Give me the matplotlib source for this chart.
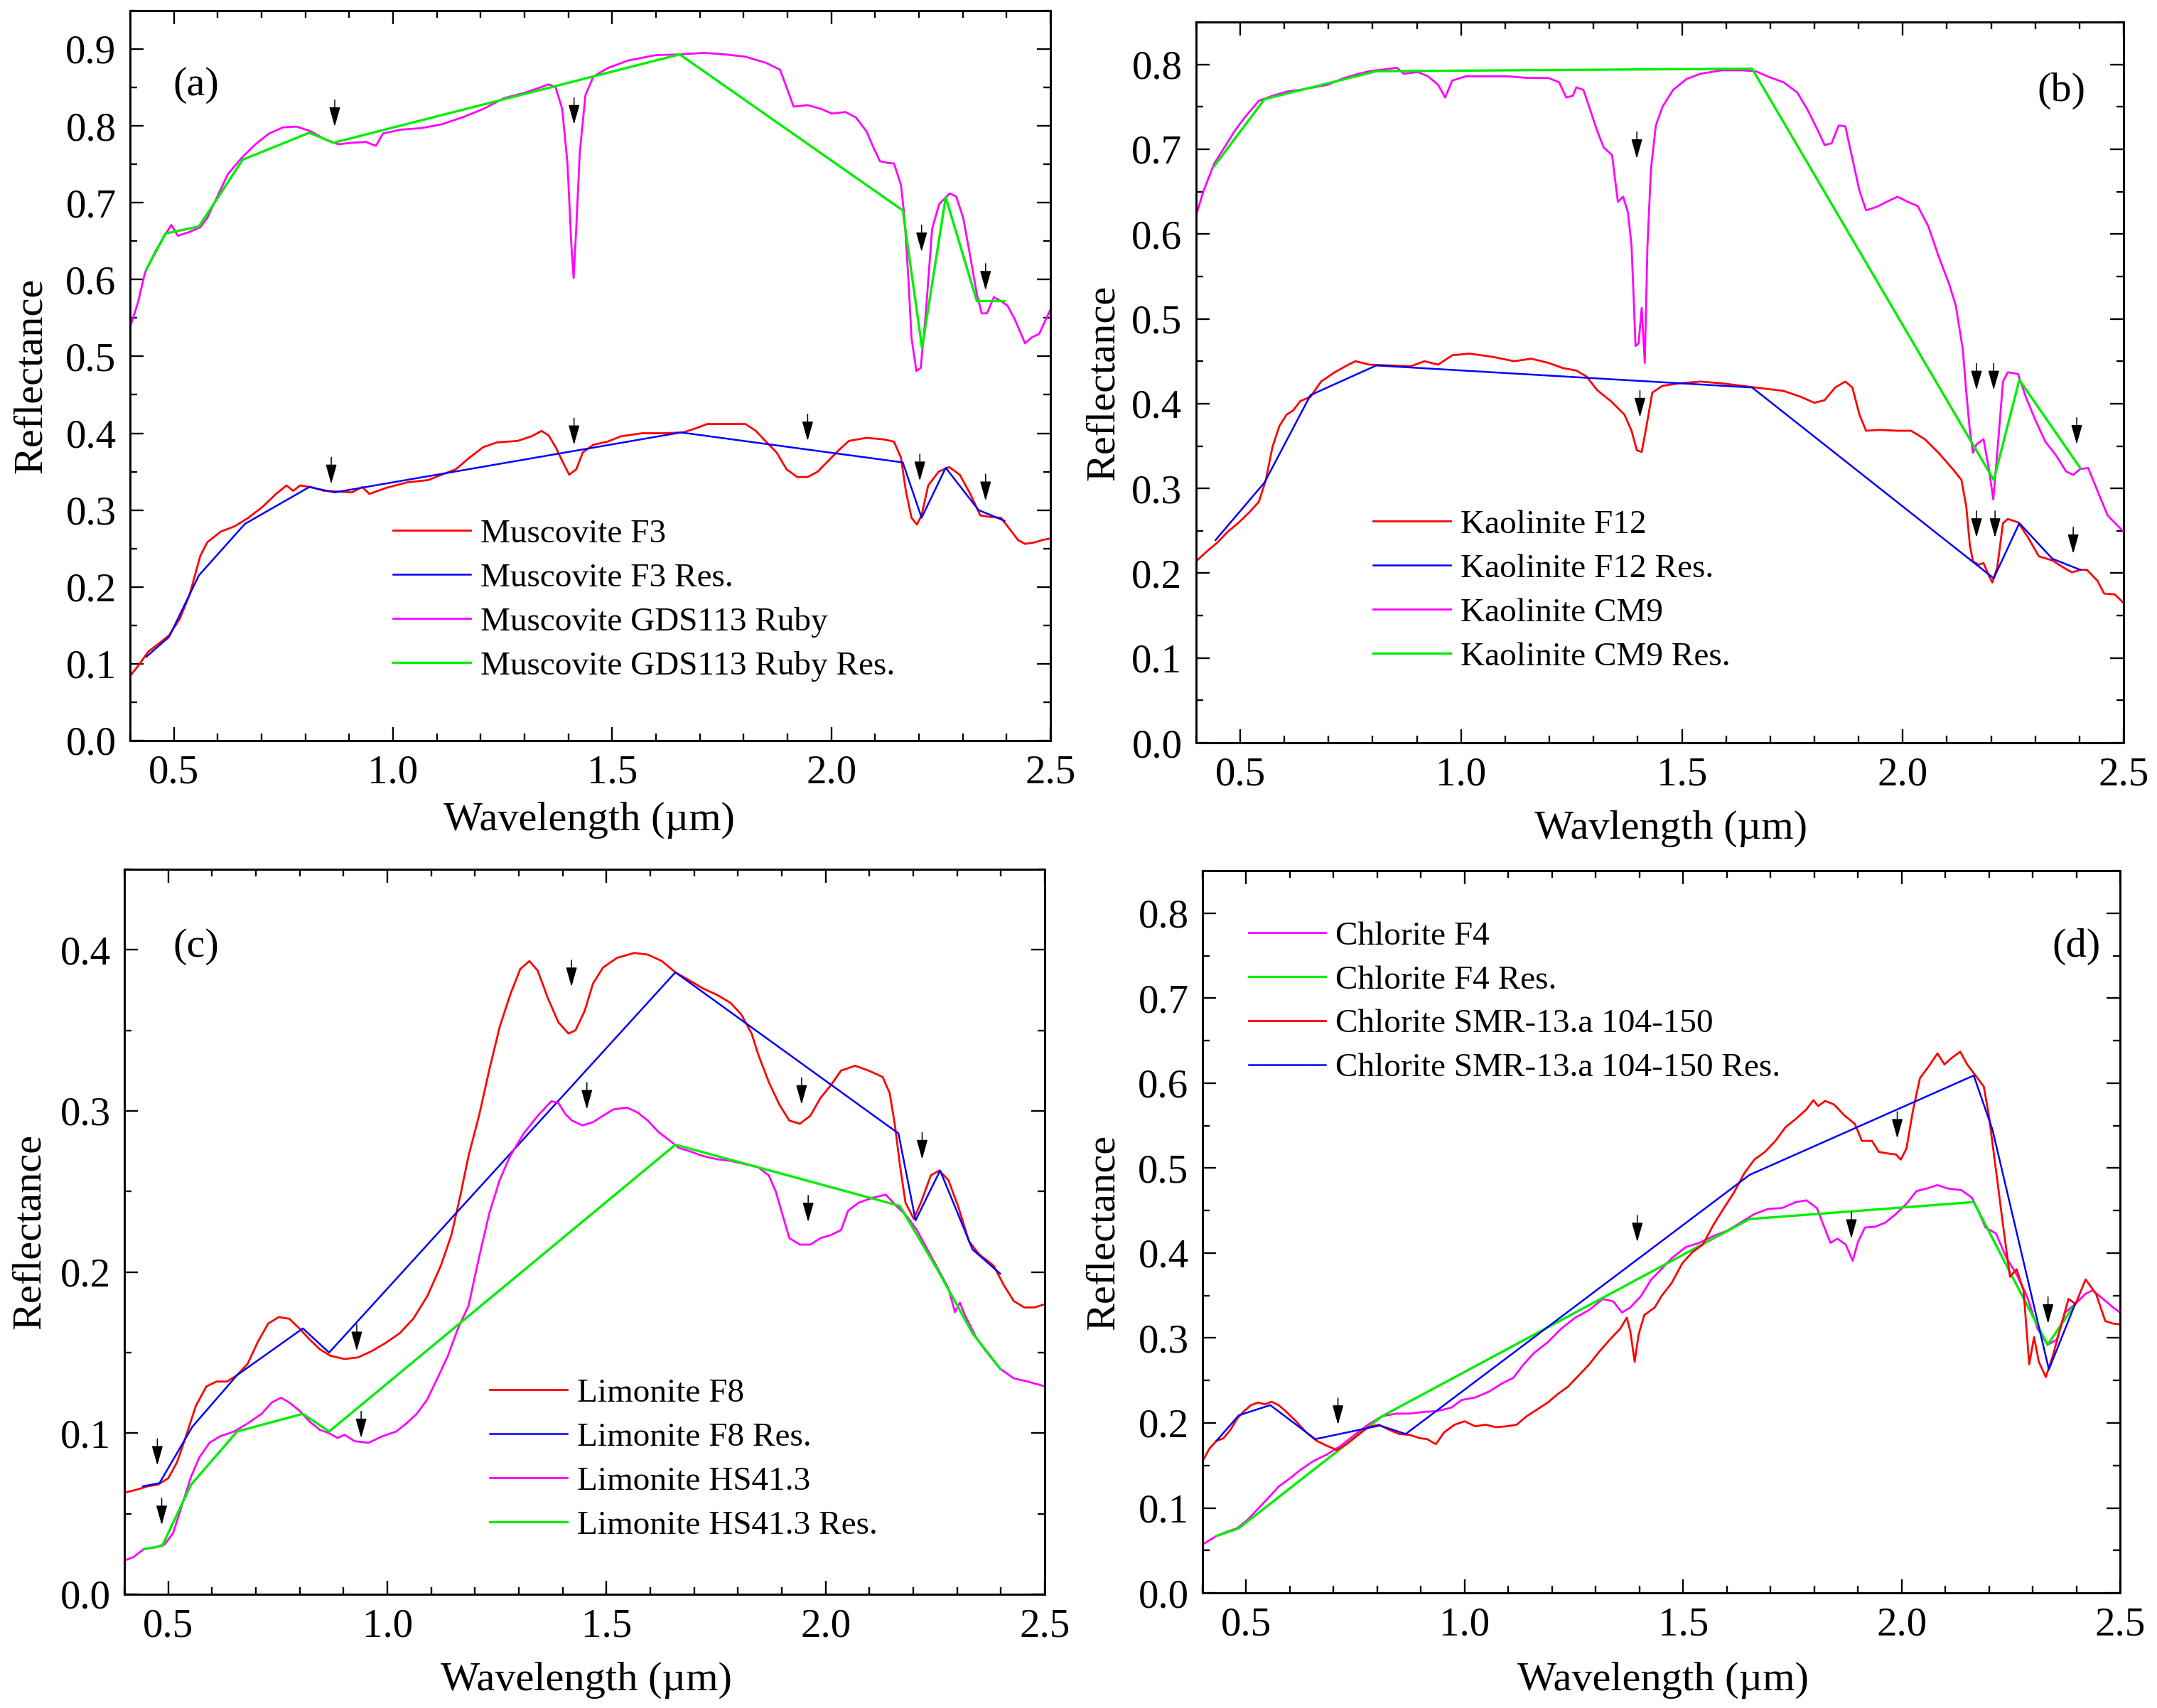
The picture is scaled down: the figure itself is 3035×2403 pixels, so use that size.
import numpy as np
import matplotlib
matplotlib.use('Agg')
import matplotlib.pyplot as plt
from matplotlib.ticker import MultipleLocator, FormatStrFormatter

plt.rcParams['font.family'] = ['Liberation Serif', 'DejaVu Serif']

RED = '#ff0000'
BLUE = '#0000ff'
MAG = '#ff00ff'
GRN = '#00ee00'

# ---------------- panel (a): muscovite ----------------
musc_gds = [(0.400, 0.538), (0.418, 0.570), (0.434, 0.609), (0.458, 0.637), (0.481, 0.659),
            (0.494, 0.671), (0.509, 0.657), (0.536, 0.662), (0.560, 0.668), (0.576, 0.680),
            (0.599, 0.708), (0.623, 0.737), (0.654, 0.758), (0.686, 0.776), (0.717, 0.790),
            (0.749, 0.798), (0.780, 0.799), (0.812, 0.793), (0.843, 0.783), (0.875, 0.776),
            (0.906, 0.778), (0.938, 0.779), (0.961, 0.774), (0.977, 0.790), (1.017, 0.795),
            (1.064, 0.797), (1.111, 0.802), (1.158, 0.811), (1.206, 0.822), (1.253, 0.836),
            (1.300, 0.843), (1.331, 0.849), (1.355, 0.854), (1.371, 0.850), (1.386, 0.822),
            (1.398, 0.751), (1.407, 0.644), (1.412, 0.602), (1.418, 0.666), (1.426, 0.765),
            (1.439, 0.840), (1.457, 0.864), (1.489, 0.875), (1.536, 0.885), (1.599, 0.892),
            (1.654, 0.893), (1.709, 0.895), (1.757, 0.893), (1.804, 0.890), (1.851, 0.882),
            (1.883, 0.873), (1.898, 0.850), (1.914, 0.825), (1.946, 0.827), (1.977, 0.822),
            (2.001, 0.816), (2.032, 0.818), (2.056, 0.811), (2.080, 0.793), (2.096, 0.772),
            (2.111, 0.754), (2.127, 0.752), (2.143, 0.751), (2.159, 0.723), (2.167, 0.680),
            (2.175, 0.609), (2.183, 0.524), (2.194, 0.481), (2.204, 0.485), (2.215, 0.552),
            (2.230, 0.666), (2.246, 0.698), (2.270, 0.712), (2.285, 0.708), (2.301, 0.680),
            (2.317, 0.630), (2.332, 0.581), (2.343, 0.556), (2.355, 0.556), (2.371, 0.577),
            (2.387, 0.572), (2.402, 0.566), (2.418, 0.549), (2.442, 0.517), (2.458, 0.525),
            (2.474, 0.529), (2.500, 0.561)]
musc_gds_res = [(0.437, 0.613), (0.481, 0.660), (0.557, 0.669), (0.657, 0.756), (0.809, 0.791),
                (0.864, 0.778), (1.654, 0.893), (2.163, 0.690), (2.207, 0.511), (2.261, 0.707),
                (2.332, 0.572), (2.395, 0.572)]
musc_f3 = [(0.400, 0.084), (0.418, 0.097), (0.442, 0.116), (0.465, 0.126), (0.489, 0.137),
           (0.513, 0.158), (0.536, 0.190), (0.560, 0.240), (0.576, 0.258), (0.607, 0.272),
           (0.639, 0.279), (0.670, 0.290), (0.702, 0.304), (0.733, 0.321), (0.757, 0.332),
           (0.772, 0.325), (0.788, 0.332), (0.812, 0.330), (0.843, 0.325), (0.875, 0.324),
           (0.906, 0.323), (0.930, 0.330), (0.946, 0.321), (0.985, 0.329), (1.032, 0.336),
           (1.080, 0.339), (1.111, 0.346), (1.143, 0.353), (1.174, 0.368), (1.206, 0.382),
           (1.237, 0.388), (1.284, 0.390), (1.316, 0.396), (1.339, 0.403), (1.355, 0.397),
           (1.371, 0.382), (1.386, 0.364), (1.402, 0.346), (1.418, 0.353), (1.433, 0.375),
           (1.457, 0.385), (1.489, 0.389), (1.520, 0.396), (1.568, 0.400), (1.615, 0.400),
           (1.662, 0.401), (1.694, 0.407), (1.717, 0.412), (1.757, 0.412), (1.804, 0.412),
           (1.828, 0.403), (1.851, 0.389), (1.875, 0.375), (1.898, 0.353), (1.922, 0.343),
           (1.946, 0.343), (1.969, 0.350), (1.993, 0.364), (2.017, 0.378), (2.040, 0.390),
           (2.080, 0.394), (2.119, 0.392), (2.143, 0.389), (2.159, 0.368), (2.170, 0.325),
           (2.183, 0.290), (2.195, 0.281), (2.206, 0.293), (2.221, 0.332), (2.245, 0.350),
           (2.269, 0.356), (2.293, 0.346), (2.317, 0.321), (2.340, 0.293), (2.363, 0.291),
           (2.387, 0.290), (2.402, 0.279), (2.426, 0.261), (2.442, 0.256), (2.465, 0.258),
           (2.481, 0.261), (2.500, 0.263)]
musc_f3_res = [(0.437, 0.109), (0.489, 0.135), (0.557, 0.215), (0.662, 0.282), (0.809, 0.330),
               (0.867, 0.323), (1.657, 0.401), (2.163, 0.362), (2.206, 0.290), (2.261, 0.355),
               (2.336, 0.300), (2.395, 0.286)]
arrows_a = [(0.867, 0.799), (1.413, 0.802), (2.206, 0.636), (2.352, 0.586),
            (0.859, 0.334), (1.413, 0.385), (1.946, 0.390), (2.202, 0.338), (2.352, 0.312)]

# ---------------- panel (b): kaolinite ----------------
kaol_cm9 = [(0.400, 0.622), (0.417, 0.651), (0.441, 0.683), (0.464, 0.702), (0.488, 0.722),
            (0.511, 0.738), (0.542, 0.757), (0.573, 0.763), (0.605, 0.768), (0.636, 0.770),
            (0.667, 0.773), (0.698, 0.776), (0.730, 0.783), (0.761, 0.788), (0.792, 0.792),
            (0.823, 0.794), (0.855, 0.796), (0.870, 0.789), (0.902, 0.791), (0.925, 0.786),
            (0.948, 0.776), (0.964, 0.761), (0.980, 0.781), (1.011, 0.786), (1.058, 0.786),
            (1.105, 0.786), (1.152, 0.784), (1.198, 0.784), (1.222, 0.779), (1.238, 0.761),
            (1.253, 0.763), (1.261, 0.773), (1.277, 0.770), (1.292, 0.747), (1.308, 0.722),
            (1.323, 0.702), (1.342, 0.693), (1.355, 0.638), (1.367, 0.644), (1.378, 0.625),
            (1.386, 0.586), (1.391, 0.522), (1.395, 0.468), (1.402, 0.471), (1.409, 0.513),
            (1.416, 0.448), (1.422, 0.586), (1.430, 0.677), (1.441, 0.728), (1.456, 0.750),
            (1.480, 0.770), (1.511, 0.783), (1.542, 0.789), (1.589, 0.793), (1.636, 0.793),
            (1.667, 0.792), (1.698, 0.785), (1.730, 0.779), (1.761, 0.767), (1.784, 0.747),
            (1.808, 0.722), (1.823, 0.705), (1.839, 0.707), (1.855, 0.728), (1.870, 0.727),
            (1.886, 0.689), (1.902, 0.651), (1.917, 0.628), (1.941, 0.632), (1.964, 0.638),
            (1.988, 0.644), (2.011, 0.638), (2.034, 0.633), (2.058, 0.609), (2.081, 0.574),
            (2.105, 0.541), (2.120, 0.516), (2.136, 0.464), (2.144, 0.413), (2.152, 0.368),
            (2.159, 0.342), (2.167, 0.352), (2.183, 0.358), (2.195, 0.323), (2.205, 0.287),
            (2.214, 0.342), (2.227, 0.426), (2.238, 0.437), (2.261, 0.435), (2.280, 0.406),
            (2.300, 0.381), (2.323, 0.355), (2.347, 0.339), (2.370, 0.320), (2.386, 0.316),
            (2.402, 0.323), (2.420, 0.324), (2.441, 0.297), (2.464, 0.268), (2.500, 0.249)]
kaol_cm9_res = [(0.441, 0.680), (0.555, 0.759), (0.808, 0.792), (1.659, 0.795), (2.206, 0.310),
                (2.264, 0.428), (2.402, 0.324)]
kaol_f12 = [(0.400, 0.214), (0.425, 0.226), (0.448, 0.236), (0.472, 0.249), (0.495, 0.259),
            (0.519, 0.271), (0.542, 0.284), (0.558, 0.310), (0.573, 0.349), (0.589, 0.374),
            (0.605, 0.387), (0.620, 0.392), (0.636, 0.403), (0.659, 0.408), (0.683, 0.426),
            (0.714, 0.437), (0.745, 0.446), (0.761, 0.450), (0.792, 0.446), (0.839, 0.445),
            (0.886, 0.444), (0.917, 0.450), (0.948, 0.446), (0.980, 0.457), (1.019, 0.459),
            (1.073, 0.455), (1.120, 0.450), (1.159, 0.453), (1.198, 0.448), (1.230, 0.442),
            (1.261, 0.439), (1.284, 0.432), (1.308, 0.416), (1.339, 0.403), (1.370, 0.387),
            (1.386, 0.368), (1.398, 0.345), (1.409, 0.343), (1.420, 0.374), (1.433, 0.413),
            (1.456, 0.421), (1.495, 0.424), (1.542, 0.426), (1.589, 0.424), (1.636, 0.421),
            (1.683, 0.418), (1.730, 0.415), (1.769, 0.408), (1.800, 0.401), (1.823, 0.404),
            (1.847, 0.419), (1.870, 0.426), (1.886, 0.419), (1.902, 0.387), (1.917, 0.368),
            (1.948, 0.369), (1.988, 0.368), (2.019, 0.368), (2.050, 0.358), (2.081, 0.342),
            (2.113, 0.323), (2.133, 0.310), (2.144, 0.278), (2.152, 0.233), (2.159, 0.214),
            (2.172, 0.210), (2.183, 0.212), (2.195, 0.197), (2.203, 0.189), (2.214, 0.207),
            (2.227, 0.259), (2.238, 0.264), (2.261, 0.260), (2.284, 0.242), (2.308, 0.220),
            (2.339, 0.215), (2.363, 0.207), (2.383, 0.201), (2.402, 0.204), (2.417, 0.204),
            (2.441, 0.191), (2.456, 0.176), (2.480, 0.175), (2.500, 0.165)]
kaol_f12_res = [(0.444, 0.239), (0.555, 0.307), (0.659, 0.410), (0.808, 0.445), (1.659, 0.419),
                (2.206, 0.194), (2.264, 0.259), (2.339, 0.217), (2.402, 0.204)]
arrows_b = [(1.398, 0.689), (1.405, 0.384), (2.167, 0.416), (2.206, 0.416), (2.394, 0.352),
            (2.167, 0.242), (2.209, 0.242), (2.386, 0.223)]

# ---------------- panel (c): limonite ----------------
lim_f8 = [(0.400, 0.063), (0.429, 0.065), (0.453, 0.067), (0.476, 0.068), (0.500, 0.072),
          (0.520, 0.082), (0.539, 0.097), (0.563, 0.117), (0.587, 0.129), (0.610, 0.132),
          (0.634, 0.132), (0.657, 0.136), (0.681, 0.143), (0.705, 0.157), (0.728, 0.168),
          (0.752, 0.172), (0.776, 0.171), (0.799, 0.165), (0.823, 0.158), (0.846, 0.152),
          (0.870, 0.148), (0.902, 0.146), (0.933, 0.147), (0.965, 0.151), (0.996, 0.156),
          (1.028, 0.162), (1.059, 0.171), (1.091, 0.185), (1.122, 0.204), (1.146, 0.223),
          (1.166, 0.247), (1.185, 0.272), (1.209, 0.297), (1.232, 0.325), (1.256, 0.352),
          (1.280, 0.372), (1.303, 0.388), (1.324, 0.393), (1.343, 0.387), (1.366, 0.370),
          (1.390, 0.355), (1.413, 0.348), (1.429, 0.350), (1.450, 0.362), (1.469, 0.379),
          (1.492, 0.389), (1.524, 0.395), (1.563, 0.398), (1.594, 0.397), (1.626, 0.393),
          (1.657, 0.386), (1.689, 0.381), (1.720, 0.376), (1.752, 0.372), (1.783, 0.367),
          (1.807, 0.360), (1.831, 0.348), (1.846, 0.335), (1.870, 0.318), (1.894, 0.304),
          (1.917, 0.294), (1.941, 0.292), (1.965, 0.297), (1.988, 0.308), (2.012, 0.316),
          (2.035, 0.325), (2.067, 0.328), (2.098, 0.325), (2.130, 0.321), (2.146, 0.311),
          (2.158, 0.291), (2.169, 0.267), (2.182, 0.243), (2.201, 0.233), (2.217, 0.243),
          (2.240, 0.260), (2.259, 0.263), (2.280, 0.257), (2.303, 0.240), (2.327, 0.219),
          (2.350, 0.211), (2.383, 0.204), (2.406, 0.192), (2.429, 0.182), (2.453, 0.178),
          (2.476, 0.178), (2.500, 0.180)]
lim_f8_res = [(0.442, 0.067), (0.480, 0.069), (0.555, 0.104), (0.657, 0.136), (0.807, 0.165),
              (0.867, 0.150), (1.657, 0.386), (2.166, 0.286), (2.205, 0.232), (2.261, 0.263),
              (2.335, 0.214), (2.398, 0.199)]
lim_hs = [(0.400, 0.021), (0.420, 0.023), (0.444, 0.028), (0.468, 0.029), (0.492, 0.031),
          (0.511, 0.038), (0.531, 0.055), (0.552, 0.073), (0.571, 0.085), (0.594, 0.094),
          (0.618, 0.098), (0.650, 0.101), (0.681, 0.106), (0.713, 0.112), (0.736, 0.119),
          (0.757, 0.122), (0.776, 0.119), (0.799, 0.114), (0.823, 0.107), (0.846, 0.102),
          (0.867, 0.100), (0.886, 0.097), (0.902, 0.099), (0.925, 0.095), (0.957, 0.094),
          (0.988, 0.098), (1.020, 0.101), (1.043, 0.106), (1.067, 0.112), (1.091, 0.121),
          (1.114, 0.134), (1.138, 0.148), (1.161, 0.165), (1.185, 0.179), (1.209, 0.209),
          (1.232, 0.236), (1.256, 0.257), (1.280, 0.272), (1.311, 0.286), (1.343, 0.297),
          (1.374, 0.306), (1.390, 0.305), (1.406, 0.298), (1.421, 0.294), (1.445, 0.291),
          (1.469, 0.293), (1.492, 0.297), (1.516, 0.301), (1.547, 0.302), (1.571, 0.299),
          (1.594, 0.294), (1.618, 0.287), (1.642, 0.282), (1.665, 0.277), (1.689, 0.275),
          (1.720, 0.272), (1.752, 0.270), (1.783, 0.269), (1.815, 0.267), (1.846, 0.265),
          (1.870, 0.260), (1.886, 0.250), (1.902, 0.235), (1.917, 0.221), (1.941, 0.217),
          (1.965, 0.217), (1.988, 0.221), (2.012, 0.223), (2.035, 0.226), (2.051, 0.238),
          (2.075, 0.243), (2.106, 0.246), (2.137, 0.248), (2.161, 0.241), (2.184, 0.235),
          (2.208, 0.226), (2.232, 0.214), (2.256, 0.202), (2.280, 0.190), (2.295, 0.175),
          (2.306, 0.181), (2.318, 0.173), (2.342, 0.160), (2.365, 0.151), (2.398, 0.140),
          (2.429, 0.134), (2.461, 0.132), (2.500, 0.129)]
lim_hs_res = [(0.444, 0.028), (0.486, 0.030), (0.552, 0.068), (0.657, 0.101), (0.807, 0.112),
              (0.867, 0.101), (1.657, 0.279), (2.169, 0.241), (2.256, 0.201), (2.335, 0.162),
              (2.398, 0.140)]
arrows_c = [(0.475, 0.080), (0.485, 0.043), (0.930, 0.151), (0.940, 0.097), (1.420, 0.377),
            (1.455, 0.301), (1.945, 0.304), (1.960, 0.231), (2.220, 0.270)]

# ---------------- panel (d): chlorite ----------------
chl_f4 = [(0.400, 0.057), (0.432, 0.067), (0.456, 0.072), (0.479, 0.076), (0.503, 0.086),
          (0.527, 0.099), (0.551, 0.112), (0.574, 0.125), (0.598, 0.134), (0.622, 0.144),
          (0.653, 0.155), (0.685, 0.163), (0.716, 0.173), (0.748, 0.186), (0.779, 0.198),
          (0.811, 0.208), (0.843, 0.211), (0.874, 0.211), (0.906, 0.213), (0.937, 0.214),
          (0.969, 0.218), (0.993, 0.227), (1.024, 0.230), (1.056, 0.237), (1.087, 0.247),
          (1.111, 0.253), (1.135, 0.269), (1.158, 0.282), (1.190, 0.295), (1.221, 0.311),
          (1.253, 0.324), (1.285, 0.333), (1.316, 0.346), (1.340, 0.343), (1.360, 0.330),
          (1.379, 0.336), (1.403, 0.349), (1.427, 0.369), (1.450, 0.381), (1.474, 0.394),
          (1.506, 0.407), (1.537, 0.412), (1.569, 0.420), (1.600, 0.426), (1.632, 0.436),
          (1.663, 0.446), (1.695, 0.452), (1.726, 0.453), (1.758, 0.460), (1.782, 0.462),
          (1.806, 0.453), (1.821, 0.433), (1.837, 0.412), (1.853, 0.417), (1.872, 0.410),
          (1.888, 0.391), (1.900, 0.413), (1.916, 0.430), (1.940, 0.431), (1.963, 0.436),
          (1.987, 0.446), (2.011, 0.458), (2.034, 0.473), (2.058, 0.476), (2.082, 0.480),
          (2.105, 0.476), (2.137, 0.474), (2.161, 0.465), (2.176, 0.449), (2.192, 0.430),
          (2.216, 0.423), (2.240, 0.394), (2.263, 0.375), (2.287, 0.349), (2.311, 0.311),
          (2.334, 0.292), (2.355, 0.298), (2.374, 0.330), (2.397, 0.340), (2.421, 0.352),
          (2.437, 0.356), (2.461, 0.346), (2.484, 0.336), (2.500, 0.330)]
chl_f4_res = [(0.432, 0.067), (0.483, 0.076), (0.811, 0.208), (1.652, 0.440), (2.165, 0.460),
              (2.334, 0.292), (2.397, 0.340)]
chl_smr = [(0.400, 0.155), (0.416, 0.170), (0.432, 0.179), (0.448, 0.182), (0.464, 0.192),
           (0.479, 0.205), (0.495, 0.214), (0.511, 0.221), (0.527, 0.224), (0.543, 0.222),
           (0.558, 0.225), (0.574, 0.221), (0.590, 0.214), (0.614, 0.202), (0.637, 0.189),
           (0.661, 0.179), (0.685, 0.173), (0.708, 0.168), (0.732, 0.176), (0.756, 0.186),
           (0.779, 0.195), (0.803, 0.198), (0.827, 0.192), (0.850, 0.187), (0.874, 0.186),
           (0.898, 0.182), (0.914, 0.181), (0.934, 0.175), (0.953, 0.189), (0.977, 0.198),
           (1.000, 0.202), (1.024, 0.196), (1.048, 0.198), (1.071, 0.195), (1.095, 0.196),
           (1.119, 0.198), (1.142, 0.208), (1.166, 0.216), (1.190, 0.224), (1.213, 0.234),
           (1.237, 0.243), (1.261, 0.256), (1.285, 0.269), (1.308, 0.284), (1.332, 0.298),
           (1.356, 0.311), (1.371, 0.324), (1.379, 0.308), (1.389, 0.272), (1.398, 0.304),
           (1.411, 0.327), (1.435, 0.336), (1.450, 0.349), (1.474, 0.365), (1.498, 0.388),
           (1.521, 0.401), (1.545, 0.410), (1.569, 0.433), (1.592, 0.452), (1.616, 0.471),
           (1.640, 0.494), (1.663, 0.510), (1.687, 0.519), (1.711, 0.532), (1.734, 0.548),
           (1.758, 0.558), (1.782, 0.569), (1.798, 0.580), (1.809, 0.573), (1.825, 0.579),
           (1.845, 0.575), (1.869, 0.562), (1.893, 0.552), (1.909, 0.532), (1.932, 0.532),
           (1.948, 0.519), (1.971, 0.517), (1.987, 0.516), (1.998, 0.510), (2.011, 0.523),
           (2.026, 0.568), (2.042, 0.606), (2.061, 0.619), (2.082, 0.635), (2.098, 0.622),
           (2.113, 0.629), (2.134, 0.637), (2.150, 0.622), (2.169, 0.609), (2.188, 0.596),
           (2.200, 0.561), (2.216, 0.497), (2.232, 0.433), (2.248, 0.372), (2.263, 0.381),
           (2.279, 0.356), (2.292, 0.269), (2.303, 0.301), (2.314, 0.272), (2.330, 0.254),
           (2.346, 0.279), (2.366, 0.317), (2.382, 0.346), (2.398, 0.340), (2.421, 0.369),
           (2.445, 0.352), (2.466, 0.320), (2.484, 0.317), (2.500, 0.316)]
chl_smr_res = [(0.432, 0.179), (0.483, 0.209), (0.555, 0.221), (0.658, 0.181), (0.806, 0.197),
               (0.865, 0.187), (1.652, 0.492), (2.165, 0.609), (2.208, 0.545), (2.337, 0.263),
               (2.397, 0.340)]
arrows_d = [(0.710, 0.198), (1.395, 0.413), (1.885, 0.417), (1.990, 0.535), (2.335, 0.317)]


def xy(pts):
    a = np.array(pts)
    return a[:, 0], a[:, 1]


def style(ax, ymax, ytop_tick):
    ax.set_xlim(0.4, 2.5)
    ax.set_ylim(0.0, ymax)
    ax.xaxis.set_major_locator(MultipleLocator(0.5))
    ax.xaxis.set_minor_locator(MultipleLocator(0.1))
    ax.set_yticks(np.arange(0, ytop_tick + 0.001, 0.1))
    ax.yaxis.set_minor_locator(MultipleLocator(0.05))
    ax.xaxis.set_major_formatter(FormatStrFormatter('%.1f'))
    ax.yaxis.set_major_formatter(FormatStrFormatter('%.1f'))
    ax.tick_params(which='both', direction='in', top=True, right=True, width=1.7)
    ax.tick_params(which='major', length=14, labelsize=41, pad=14)
    ax.tick_params(which='minor', length=7)
    for s in ax.spines.values():
        s.set_linewidth(2.1)


def arrows(ax, pts):
    for (x, y) in pts:
        ax.annotate('', xy=(x, y), xytext=(0, 27), textcoords='offset points',
                    arrowprops=dict(arrowstyle='-|>,head_length=0.85,head_width=0.24',
                                    color='k', lw=1.1, shrinkA=0, shrinkB=0,
                                    mutation_scale=20))


fig = plt.figure(figsize=(30.35, 24.03), dpi=100)
ax_a = fig.add_axes([0.0603, 0.5664, 0.4267, 0.4274])
ax_b = fig.add_axes([0.5545, 0.5651, 0.4300, 0.4220])
ax_c = fig.add_axes([0.0577, 0.0666, 0.4267, 0.4245])
ax_d = fig.add_axes([0.5575, 0.0674, 0.4254, 0.4228])

LW = 2.0      # spectra
LW_G = 2.4    # green hull
LW_B = 1.8    # blue hull
leg_kw = dict(frameon=False, fontsize=34, handlelength=2.3, handletextpad=0.3,
              labelspacing=0.4, borderpad=0, borderaxespad=0, loc='center left')
LBL = 42

# (a)
ax = ax_a
style(ax, 0.95, 0.9)
ax.plot(*xy(musc_f3), color=RED, lw=LW, label='Muscovite F3')
ax.plot(*xy(musc_f3_res), color=BLUE, lw=LW_B, label='Muscovite F3 Res.')
ax.plot(*xy(musc_gds), color=MAG, lw=LW, label='Muscovite GDS113 Ruby')
ax.plot(*xy(musc_gds_res), color=GRN, lw=LW_G, label='Muscovite GDS113 Ruby Res.')
arrows(ax, arrows_a)
ax.legend(bbox_to_anchor=(0.286, 0.1925), **leg_kw)
ax.text(0.072, 0.898, '(a)', transform=ax.transAxes, fontsize=42, ha='center', va='center')
ax.set_xlabel('Wavelength (µm)', fontsize=LBL)
ax.set_ylabel('Reflectance', fontsize=LBL)
ax.xaxis.set_label_coords(0.499, -0.084)
ax.yaxis.set_label_coords(-0.087, 0.5)

# (b)
ax = ax_b
style(ax, 0.85, 0.8)
ax.plot(*xy(kaol_f12), color=RED, lw=LW, label='Kaolinite F12')
ax.plot(*xy(kaol_f12_res), color=BLUE, lw=LW_B, label='Kaolinite F12 Res.')
ax.plot(*xy(kaol_cm9), color=MAG, lw=LW, label='Kaolinite CM9')
ax.plot(*xy(kaol_cm9_res), color=GRN, lw=LW_G, label='Kaolinite CM9 Res.')
arrows(ax, arrows_b)
ax.legend(bbox_to_anchor=(0.191, 0.211), **leg_kw)
ax.text(0.933, 0.904, '(b)', transform=ax.transAxes, fontsize=42, ha='center', va='center')
ax.set_xlabel('Wavlength (µm)', fontsize=LBL)
ax.set_ylabel('Reflectance', fontsize=LBL)
ax.xaxis.set_label_coords(0.512, -0.093)
ax.yaxis.set_label_coords(-0.080, 0.5)

# (c)
ax = ax_c
style(ax, 0.45, 0.4)
ax.plot(*xy(lim_f8), color=RED, lw=LW, label='Limonite F8')
ax.plot(*xy(lim_f8_res), color=BLUE, lw=LW_B, label='Limonite F8 Res.')
ax.plot(*xy(lim_hs), color=MAG, lw=LW, label='Limonite HS41.3')
ax.plot(*xy(lim_hs_res), color=GRN, lw=LW_G, label='Limonite HS41.3 Res.')
arrows(ax, arrows_c)
ax.legend(bbox_to_anchor=(0.397, 0.186), **leg_kw)
ax.text(0.078, 0.893, '(c)', transform=ax.transAxes, fontsize=42, ha='center', va='center')
ax.set_xlabel('Wavelength (µm)', fontsize=LBL)
ax.set_ylabel('Reflectance', fontsize=LBL)
ax.xaxis.set_label_coords(0.502, -0.093)
ax.yaxis.set_label_coords(-0.083, 0.5)

# (d)
ax = ax_d
style(ax, 0.85, 0.8)
ax.plot(*xy(chl_f4), color=MAG, lw=LW, label='Chlorite F4')
ax.plot(*xy(chl_f4_res), color=GRN, lw=LW_G, label='Chlorite F4 Res.')
ax.plot(*xy(chl_smr), color=RED, lw=LW, label='Chlorite SMR-13.a 104-150')
ax.plot(*xy(chl_smr_res), color=BLUE, lw=LW_B, label='Chlorite SMR-13.a 104-150 Res.')
arrows(ax, arrows_d)
ax.legend(bbox_to_anchor=(0.050, 0.818), **leg_kw)
ax.text(0.952, 0.895, '(d)', transform=ax.transAxes, fontsize=42, ha='center', va='center')
ax.set_xlabel('Wavelength (µm)', fontsize=LBL)
ax.set_ylabel('Reflectance', fontsize=LBL)
ax.xaxis.set_label_coords(0.502, -0.095)
ax.yaxis.set_label_coords(-0.088, 0.5)

fig.savefig('out.png', dpi=100)
